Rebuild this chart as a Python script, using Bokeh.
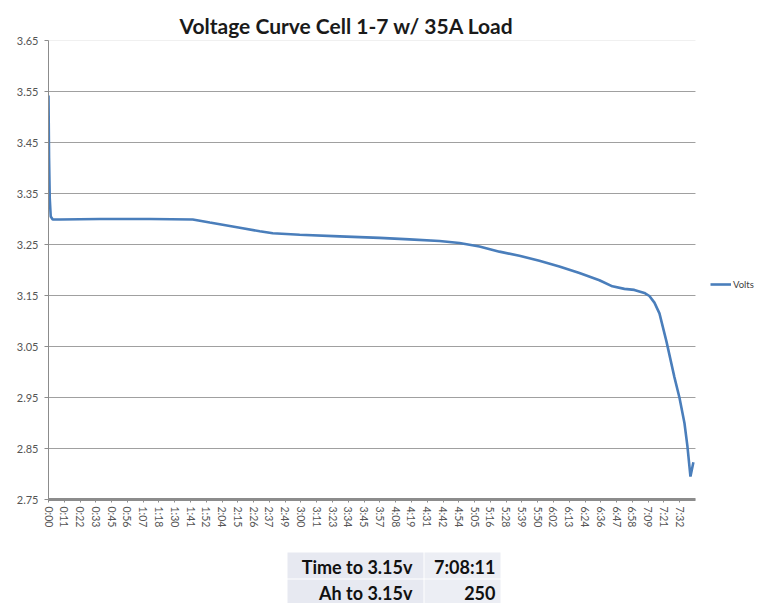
from bokeh.plotting import figure
from bokeh.models import (Range1d, FixedTicker, Legend, LegendItem, ColumnDataSource,
                          NumeralTickFormatter)
from bokeh.layouts import column
from bokeh.embed import file_html
from bokeh.resources import INLINE
from bokeh.core.properties import value

# ---------------- data ----------------
title_text = "Voltage Curve Cell 1-7 w/ 35A Load"
series_name = "Volts"

tick_labels = ["0:00", "0:11", "0:22", "0:33", "0:45", "0:56", "1:07", "1:18", "1:30", "1:41",
               "1:52", "2:04", "2:15", "2:26", "2:37", "2:49", "3:00", "3:11", "3:23", "3:34",
               "3:45", "3:57", "4:08", "4:19", "4:31", "4:42", "4:54", "5:05", "5:16", "5:28",
               "5:39", "5:50", "6:02", "6:13", "6:24", "6:36", "6:47", "6:58", "7:09", "7:21",
               "7:32"]
minutes_per_label = 11.3

time_min = [0.0, 0.4, 0.9, 1.6, 3.0, 8.2, 36.8, 72.6, 103.3, 115.5, 137.0, 151.3, 160.6,
            179.9, 208.5, 237.1, 258.5, 280.0, 294.3, 308.6, 322.9, 337.2, 351.5, 365.8,
            380.2, 394.5, 403.8, 412.4, 419.5, 426.7, 430.3, 433.9, 437.5, 442.5, 448.2,
            451.8, 455.4, 457.5, 459.7, 461.8]
volts = [3.542, 3.42, 3.34, 3.305, 3.299, 3.299, 3.300, 3.300, 3.299, 3.293, 3.283, 3.276,
         3.272, 3.269, 3.266, 3.263, 3.260, 3.257, 3.253, 3.246, 3.236, 3.228, 3.218, 3.207,
         3.194, 3.180, 3.168, 3.163, 3.161, 3.155, 3.149, 3.136, 3.115, 3.060, 2.990,
         2.950, 2.900, 2.855, 2.795, 2.823]

y_ticks = [2.75, 2.85, 2.95, 3.05, 3.15, 3.25, 3.35, 3.45, 3.55, 3.65]

table_labels = ["Time to 3.15v", "Ah to 3.15v"]
table_values = ["7:08:11", "250"]

# ---------------- chart ----------------
FONT = "Lato"
PLOT_END = 41          # end of plot area in label-index units
VIEW_END = 44.93       # canvas extends further right to host the legend
x_idx = [t / minutes_per_label for t in time_min]
src = ColumnDataSource(data=dict(x=x_idx, v=volts))

p = figure(width=757, height=532, output_backend="svg", toolbar_location=None,
           x_range=Range1d(0, VIEW_END), y_range=Range1d(y_ticks[0], y_ticks[-1]),
           min_border_left=48, min_border_right=0, min_border_top=40, min_border_bottom=33)
p.outline_line_color = None
p.background_fill_color = "white"
p.border_fill_color = "white"

p.title.text = title_text
p.title.text_font = FONT
p.title.text_font_style = "bold"
p.title.text_font_size = "21px"
p.title.text_color = "#1a1a1a"
p.title.align = "left"
p.title.offset = 131
p.title.standoff = 6

# horizontal gridlines limited to the plot area
p.xgrid.grid_line_color = None
p.ygrid.grid_line_color = None
grid_y = y_ticks[:-1]
p.segment(x0=[0] * len(grid_y), x1=[PLOT_END] * len(grid_y), y0=grid_y, y1=grid_y,
          line_color="#a0a0a0", line_width=1)
p.segment(x0=[0], x1=[PLOT_END], y0=[y_ticks[-1]], y1=[y_ticks[-1]],
          line_color="#e2e2e2", line_width=1)

line = p.line("x", "v", source=src, line_color="#4a7ebb", line_width=2.6)

# x axis
p.xaxis.bounds = (0, PLOT_END)
p.xaxis.ticker = FixedTicker(ticks=list(range(len(tick_labels))))
p.xaxis.major_label_overrides = {i: lab for i, lab in enumerate(tick_labels)}
p.xaxis.major_label_orientation = "vertical"
p.xaxis.major_label_text_font = FONT
p.xaxis.major_label_text_font_size = "10.5px"
p.xaxis.major_label_text_color = "#555555"
p.xaxis.axis_line_color = "#8c8c8c"
p.xaxis.axis_line_width = 3
p.xaxis.major_tick_line_color = "#8c8c8c"
p.xaxis.major_tick_in = 0
p.xaxis.major_tick_out = 3
p.xaxis.minor_tick_line_color = None
p.xaxis.major_label_standoff = 4

# y axis
p.yaxis.ticker = FixedTicker(ticks=y_ticks)
p.yaxis.formatter = NumeralTickFormatter(format="0.00")
p.yaxis.major_label_text_font = FONT
p.yaxis.major_label_text_font_size = "11px"
p.yaxis.major_label_text_color = "#555555"
p.yaxis.axis_line_color = "#8c8c8c"
p.yaxis.major_tick_line_color = "#8c8c8c"
p.yaxis.major_tick_in = 0
p.yaxis.major_tick_out = 4
p.yaxis.minor_tick_line_color = None
p.yaxis.major_label_standoff = 6

legend = Legend(items=[LegendItem(label=series_name, renderers=[line])],
                location=(662, 205), padding=0, margin=0, spacing=0,
                border_line_color=None, background_fill_alpha=0,
                glyph_width=21, glyph_height=20, label_standoff=2,
                label_text_font=FONT, label_text_font_size="9.5px", label_text_color="#404040")
p.add_layout(legend)

# ---------------- summary table ----------------
# the column aligns this figure's frame with the chart frame (page x 48..757)
TH = 71
t = figure(width=757, height=TH, output_backend="svg", toolbar_location=None,
           x_range=Range1d(48, 757), y_range=Range1d(TH, 0),
           min_border=0, x_axis_type=None, y_axis_type=None)
t.outline_line_color = None
t.xgrid.grid_line_color = None
t.ygrid.grid_line_color = None

row_top = [20, 47]
row_bottom = [46, 71]
row_base = [34, 60]
t.quad(left=[287] * len(row_top), right=[423] * len(row_top),
       top=row_top, bottom=row_bottom, fill_color="#e7e9f1", line_color=None)
t.quad(left=[424] * len(row_top), right=[500] * len(row_top),
       top=row_top, bottom=row_bottom, fill_color="#eceef4", line_color=None)
t.text(x=[412] * len(row_base), y=row_base, text=table_labels, text_align="right",
       text_baseline="alphabetic", text_font=value(FONT), text_font_style="bold",
       text_font_size="18px", text_color="#111111")
t.text(x=[495] * len(row_base), y=row_base, text=table_values, text_align="right",
       text_baseline="alphabetic", text_font=value(FONT), text_font_style="bold",
       text_font_size="18px", text_color="#111111")

layout = column(p, t, spacing=0)
open("out.html", "w").write(file_html(layout, INLINE))
